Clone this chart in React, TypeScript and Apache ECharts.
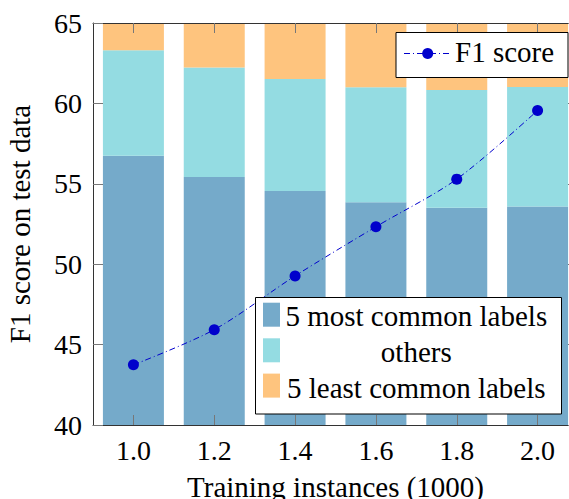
import React, { useEffect, useRef } from "react";
import * as echarts from "echarts";

const categories = ["1.0", "1.2", "1.4", "1.6", "1.8", "2.0"];
const mostCommon = [56.74, 55.43, 54.55, 53.86, 53.51, 53.59];
const others = [6.56, 6.8, 6.97, 7.14, 7.33, 7.43];
const leastCommon = [36.7, 37.77, 38.48, 39.0, 39.16, 38.98];
const f1Score = [43.74, 45.93, 49.27, 52.33, 55.29, 59.56];
const yTicks = { min: 40, max: 65, interval: 5 };

const FONT = "'Liberation Serif', 'Times New Roman', Times, serif";
const C_MOST = "#75aaca";
const C_OTHERS = "#94dce2";
const C_LEAST = "#fec47e";
const C_LINE = "#0000cc";
const DASH = [6, 3, 1, 3];

export default function App() {
  const ref = useRef<HTMLDivElement>(null);
  useEffect(() => {
    if (!ref.current) return;
    const chart = echarts.init(ref.current, null, { renderer: "svg" });
    const tickStyle = { color: "#777", width: 1 };
    const frame = { show: true, lineStyle: { color: "#333", width: 1 } };
    const legendText = (x: number, y: number, text: string, align: string) => ({
      type: "text",
      z: 102,
      style: {
        x,
        y,
        text,
        fontFamily: FONT,
        fontSize: 29,
        fill: "#000",
        textAlign: align,
        verticalAlign: "middle",
      },
    });
    const option: any = {
      animation: false,
      backgroundColor: "#fff",
      textStyle: { fontFamily: FONT },
      grid: {
        left: 93,
        top: 23,
        bottom: 74,
        right: -9,
        containLabel: false,
        outerBoundsMode: "none",
      },
      xAxis: [
        {
          type: "category",
          data: categories,
          position: "bottom",
          z: 10,
          axisLine: frame,
          axisTick: { show: true, inside: true, alignWithLabel: true, length: 10, lineStyle: tickStyle },
          axisLabel: { fontFamily: FONT, fontSize: 28, color: "#000", margin: 11 },
          name: "Training instances (1000)",
          nameLocation: "middle",
          nameGap: 47,
          nameTextStyle: { fontFamily: FONT, fontSize: 29, color: "#000" },
        },
        {
          type: "category",
          data: categories,
          position: "top",
          z: 10,
          axisLine: frame,
          axisTick: { show: true, inside: true, alignWithLabel: true, length: 10, lineStyle: tickStyle },
          axisLabel: { show: false },
        },
      ],
      yAxis: [
        {
          type: "value",
          min: yTicks.min,
          max: yTicks.max,
          interval: yTicks.interval,
          position: "left",
          z: 10,
          axisLine: frame,
          splitLine: { show: false },
          axisTick: { show: true, inside: true, length: 10, lineStyle: tickStyle },
          axisLabel: { fontFamily: FONT, fontSize: 28, color: "#000", margin: 11 },
          name: "F1 score on test data",
          nameLocation: "middle",
          nameGap: 59,
          nameTextStyle: { fontFamily: FONT, fontSize: 29, color: "#000" },
        },
        {
          type: "value",
          min: yTicks.min,
          max: yTicks.max,
          interval: yTicks.interval,
          position: "right",
          z: 10,
          axisLine: frame,
          splitLine: { show: false },
          axisTick: { show: true, inside: true, length: 10, lineStyle: tickStyle },
          axisLabel: { show: false },
        },
      ],
      series: [
        {
          name: "5 most common labels",
          type: "bar",
          stack: "s",
          data: mostCommon,
          barWidth: 61,
          itemStyle: { color: C_MOST },
          clip: true,
        },
        {
          name: "others",
          type: "bar",
          stack: "s",
          data: others,
          barWidth: 61,
          itemStyle: { color: C_OTHERS },
          clip: true,
        },
        {
          name: "5 least common labels",
          type: "bar",
          stack: "s",
          data: leastCommon,
          barWidth: 61,
          itemStyle: { color: C_LEAST },
          clip: true,
        },
        {
          name: "F1 score",
          type: "line",
          data: f1Score,
          smooth: 0.3,
          symbol: "circle",
          symbolSize: 11,
          z: 5,
          itemStyle: { color: C_LINE },
          lineStyle: { color: C_LINE, width: 1, type: DASH },
        },
      ],
      graphic: [
        {
          type: "rect",
          z: 100,
          shape: { x: 396, y: 32.5, width: 172, height: 45 },
          style: { fill: "#fff", stroke: "#000", lineWidth: 1 },
        },
        {
          type: "line",
          z: 101,
          shape: { x1: 404, y1: 53.5, x2: 451, y2: 53.5 },
          style: { stroke: C_LINE, lineWidth: 1, lineDash: DASH },
        },
        {
          type: "circle",
          z: 102,
          shape: { cx: 427.7, cy: 53.5, r: 5.5 },
          style: { fill: C_LINE },
        },
        legendText(455, 52, "F1 score", "left"),
        {
          type: "rect",
          z: 100,
          shape: { x: 255.5, y: 297.5, width: 306, height: 116.5 },
          style: { fill: "#fff", stroke: "#000", lineWidth: 1 },
        },
        {
          type: "rect",
          z: 101,
          shape: { x: 263, y: 302.7, width: 17, height: 24 },
          style: { fill: C_MOST },
        },
        {
          type: "rect",
          z: 101,
          shape: { x: 263, y: 338.3, width: 17, height: 24 },
          style: { fill: C_OTHERS },
        },
        {
          type: "rect",
          z: 101,
          shape: { x: 263, y: 373.6, width: 17, height: 24 },
          style: { fill: C_LEAST },
        },
        legendText(416.3, 316, "5 most common labels", "center"),
        legendText(416.3, 352, "others", "center"),
        legendText(416.3, 387.5, "5 least common labels", "center"),
      ],
    };
    chart.setOption(option);
    return () => chart.dispose();
  }, []);
  return (
    <div
      ref={ref}
      style={{ position: "fixed", left: 0, top: 0, width: 569, height: 499, background: "#fff" }}
    />
  );
}
